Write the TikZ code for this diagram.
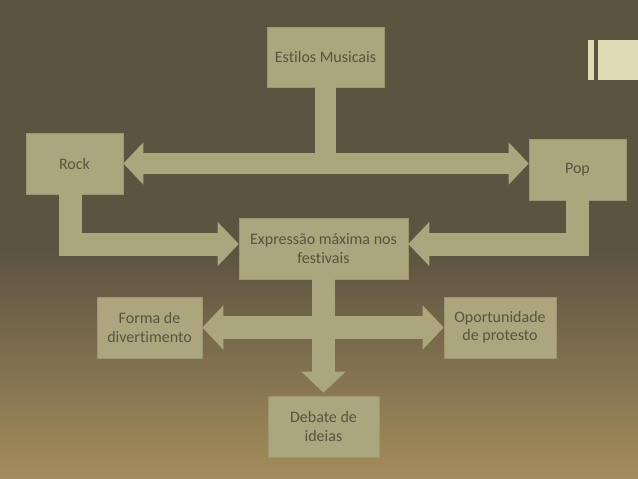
\documentclass[tikz,border=0pt]{standalone}
\usepackage{fontspec}
\setmainfont[Ligatures=NoCommon]{Carlito}
\usetikzlibrary{arrows.meta,positioning}
\definecolor{bgtop}{HTML}{5C5441}
\definecolor{bgbot}{HTML}{A48D5B}
\definecolor{boxfill}{HTML}{ABA67D}
\definecolor{boxline}{HTML}{9C976F}
\definecolor{ink}{HTML}{5A5340}
\definecolor{cream}{HTML}{DEDAB4}

\begin{document}
\begin{tikzpicture}[x=1pt,y=-1pt,
   box/.style={fill=boxfill,draw=boxline,line width=0.6pt,inner sep=0pt,
               align=center,text=ink,font=\fontsize{16}{18.3}\selectfont,
               minimum height=61pt},
   fat/.style={draw=boxfill,line width=23pt,line join=miter,
               >={Triangle[length=21pt,width=43pt]}},
   thin/.style={fat,line width=21pt,>={Triangle[length=20pt,width=41pt]}}]
  \useasboundingbox (0,0) rectangle (638,479);
  % background
  \fill[bgtop] (0,0) rectangle (638,250);
  \shade[top color=bgtop,bottom color=bgbot] (0,250) rectangle (638,479);
  % corner mark
  \fill[cream] (588,40) rectangle (594,80);
  \fill[cream] (598,40) rectangle (638,80);

  % boxes
  \node[box,minimum width=117pt,minimum height=60pt] (estilos) at (325.5,57) {Estilos Musicais};
  \node[box,minimum width=97pt] (rock) at (74.5,163.5) {Rock};
  \node[box,minimum width=97pt] (pop) at (577.5,169.5) {Pop};
  \node[box,minimum width=169pt] (expr) at (323.5,248.5) {Expressão máxima nos\\festivais};
  \node[box,minimum width=105pt] (forma) at (149.5,327.5) {Forma de\\divertimento};
  \node[box,minimum width=112pt] (oport) at (500,327.5) {Oportunidade\\de protesto};
  \node[box,minimum width=111pt] (debate) at (323.5,426.5) {Debate de\\ideias};

  % connectors
  \draw[thin] (estilos.south) -- (estilos.south |- rock.east);
  \draw[thin,<->] (rock.east) -- (pop.west |- rock.east);
  \draw[fat,->] ([xshift=-4.5pt]rock.south) |- ([yshift=4.5pt]expr.west);
  \draw[fat,->] (pop.south) |- ([yshift=4.5pt]expr.east);
  \draw[fat,->] (expr.south) -- ([yshift=3pt]debate.north);
  \draw[fat,<->] (forma.east) -- (oport.west);
\end{tikzpicture}
\end{document}
